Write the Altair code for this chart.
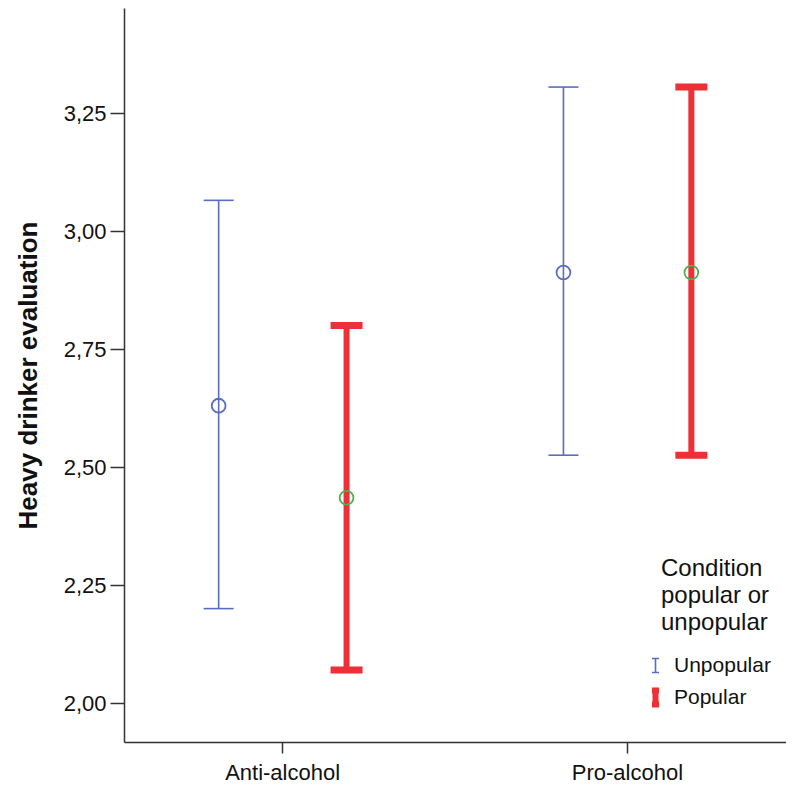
import altair as alt
import pandas as pd

conditions = ["Anti-alcohol", "Anti-alcohol", "Pro-alcohol", "Pro-alcohol"]
groups = ["Unpopular", "Popular", "Unpopular", "Popular"]
means = [2.63, 2.435, 2.912, 2.912]
lower = [2.20, 2.07, 2.525, 2.525]
upper = [3.065, 2.80, 3.305, 3.305]

cat_order = ["Anti-alcohol", "Pro-alcohol"]
group_order = ["Unpopular", "Popular"]
bar_colors = ["#5a6cc0", "#ee2f36"]
circle_colors = ["#5a6cc0", "#4cb050"]
y_ticks = [2.0, 2.25, 2.5, 2.75, 3.0, 3.25]

df = pd.DataFrame({
    "condition": conditions,
    "group": groups,
    "mean": means,
    "lower": lower,
    "upper": upper,
})

FONT = "Liberation Sans"
ISYM = "M-0.5,-1H0.5M0,-1V1M-0.5,1H0.5"

x_enc = alt.X(
    "condition:N",
    title=None,
    sort=cat_order,
    scale=alt.Scale(domain=cat_order, paddingInner=0.08, paddingOuter=0),
    axis=alt.Axis(labelAngle=0, tickSize=11, labelFontSize=22, labelPadding=9,
                  labelFont=FONT, labelColor="#111"),
)
xoff = alt.XOffset("group:N", sort=group_order,
                   scale=alt.Scale(domain=group_order, paddingInner=0, paddingOuter=0.24))
y_scale = alt.Scale(domain=[1.9174, 3.4725], nice=False, zero=False)
y_axis = alt.Axis(
    values=y_ticks,
    labelExpr="replace(format(datum.value, '.2f'), '.', ',')",
    tickSize=14,
    labelFontSize=22,
    labelFont=FONT,
    labelColor="#111",
    labelPadding=4,
    title="Heavy drinker evaluation",
    titleFont=FONT,
    titleFontSize=26,
    titleFontWeight="bold",
    titleColor="#111",
    titlePadding=22,
)

legend_cfg = dict(
    title=["Condition", "popular or", "unpopular"],
    orient="none",
    legendX=537,
    legendY=549,
    titleFont=FONT,
    titleFontSize=24,
    titleFontWeight="normal",
    titleColor="#111",
    titleLineHeight=27,
    titlePadding=20,
    labelFont=FONT,
    labelFontSize=21,
    labelColor="#111",
    labelOffset=8,
    symbolType=ISYM,
    symbolSize=200,
    symbolOffset=-16,
    rowPadding=2,
)

base = alt.Chart(df)

rules = base.mark_rule(opacity=1).encode(
    x=x_enc,
    xOffset=xoff,
    y=alt.Y("lower:Q", scale=y_scale, axis=y_axis),
    y2="upper:Q",
    color=alt.Color(
        "group:N",
        scale=alt.Scale(domain=group_order, range=bar_colors),
        legend=alt.Legend(**legend_cfg),
    ),
    strokeWidth=alt.StrokeWidth(
        "group:N",
        scale=alt.Scale(domain=group_order, range=[1.6, 6]),
        legend=alt.Legend(**legend_cfg),
    ),
)


def caps(grp, field, size, thick, col):
    return base.transform_filter(alt.datum.group == grp).mark_tick(
        size=size, thickness=thick, color=col, opacity=1
    ).encode(x=x_enc, xOffset=xoff, y=alt.Y(f"{field}:Q", scale=y_scale))


layers = [
    rules,
    caps("Unpopular", "lower", 30, 1.6, bar_colors[0]),
    caps("Unpopular", "upper", 30, 1.6, bar_colors[0]),
    caps("Popular", "lower", 32, 7, bar_colors[1]),
    caps("Popular", "upper", 32, 7, bar_colors[1]),
]

points = base.mark_point(shape="circle", filled=False, size=190, strokeWidth=1.8, opacity=1).encode(
    x=x_enc,
    xOffset=xoff,
    y=alt.Y("mean:Q", scale=y_scale),
    stroke=alt.Stroke("group:N", scale=alt.Scale(domain=group_order, range=circle_colors),
                      legend=None),
)
layers.append(points)

chart = alt.layer(*layers).properties(
    width=662,
    height=734,
    padding={"left": 7, "top": 0, "right": 0, "bottom": 0},
    background="white",
).configure_view(stroke=None).configure_axis(
    grid=False,
    domainColor="#333",
    domainWidth=1.5,
    tickColor="#333",
    tickWidth=1.5,
).resolve_scale(stroke="independent")

chart.save("out.html", embed_options={"renderer": "svg", "actions": False})
